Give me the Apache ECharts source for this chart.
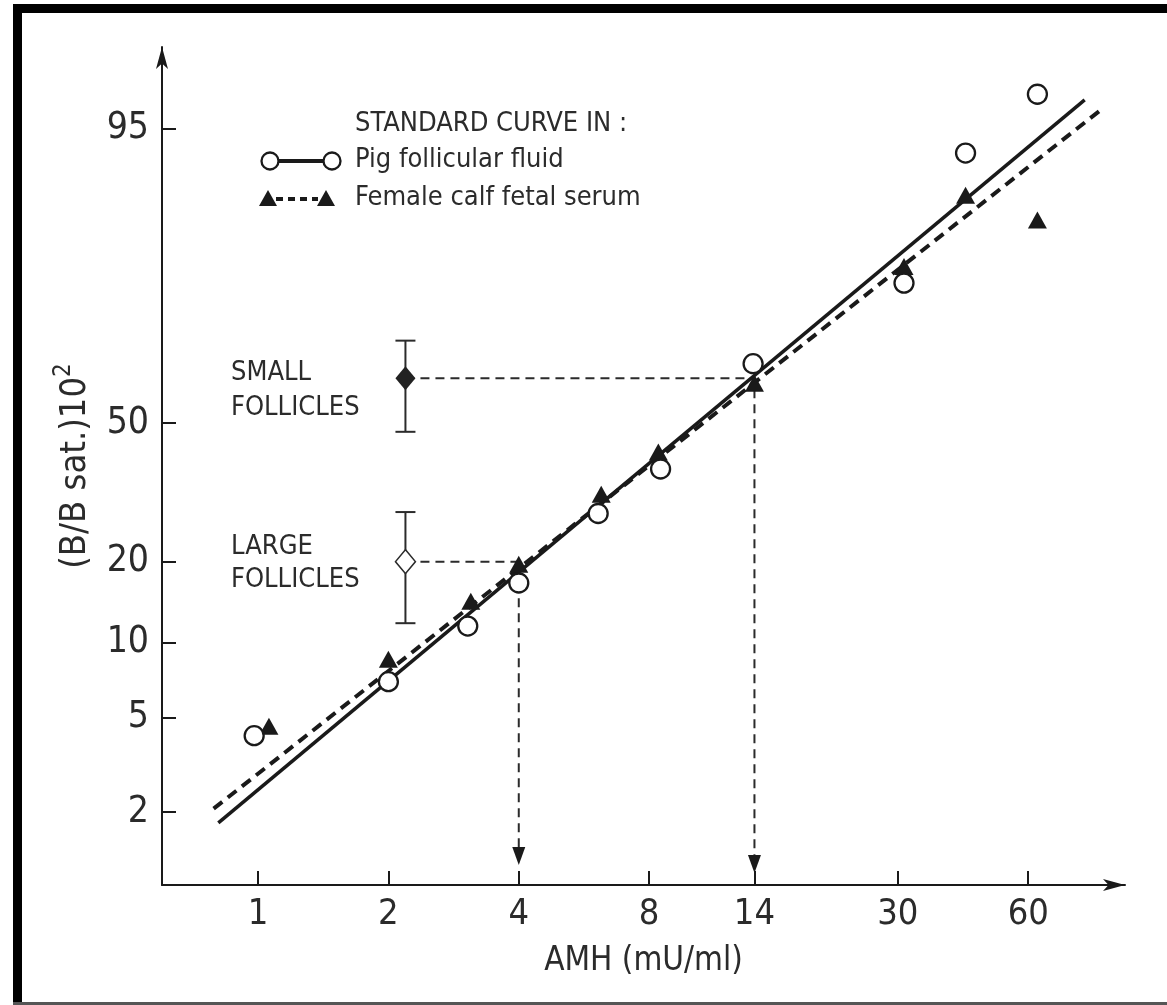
<!DOCTYPE html>
<html>
<head>
<meta charset="utf-8">
<script src="https://cdn.jsdelivr.net/npm/echarts@6/dist/echarts.min.js"></script>
<style>
  html, body { margin: 0; padding: 0; background: #fff; }
  #chart { width: 1167px; height: 1005px; }
</style>
</head>
<body>
<div id="chart"></div>
<script>
// tick labels
const xTicks = [1, 2, 4, 8, 14, 30, 60];
const yTicks = [2, 5, 10, 20, 50, 95];

// standard curve in pig follicular fluid (open circles)
const pigAMH = [0.98, 2, 3.05, 4, 6.1, 8.5, 13.9, 31, 43, 63];
const pigBound = [4.2, 7.0, 11.6, 16.8, 28.8, 38.7, 64.4, 80.2, 93.7, 96.4];
// standard curve in female calf fetal serum (filled triangles)
const calfAMH = [1.06, 2, 3.1, 4, 6.2, 8.4, 14, 31, 43, 63];
const calfBound = [4.6, 8.6, 14.4, 19.6, 32.9, 42.8, 59.8, 82.7, 90.7, 88.4];

// fitted lines (start, end)
const pigFitAMH = [0.81, 81];
const pigFitBound = [1.8, 96.2];
const calfFitAMH = [0.79, 88];
const calfFitBound = [2.07, 95.8];

// follicle samples: mean and range, read back on the curve
const follicleAMH = [2.19, 2.19];
const follicleBound = [61.0, 20.0];
const follicleHigh = [69.5, 29.1];
const follicleLow = [47.8, 11.9];
const follicleRead = [14, 4];
const arrowEnd = [1.2, 1.3];

const FONT = '"Liberation Sans Narrow", "DejaVu Sans Condensed", "Liberation Sans", sans-serif';
const INK = '#1a1a1a';
const TXT = '#2b2b2b';

const lg = v => Math.log2(v);
const logit = p => Math.log(p / (100 - p));
const pair = (xs, ys) => xs.map((x, i) => [lg(x), logit(ys[i])]);

const chart = echarts.init(document.getElementById('chart'));

const guideSeries = follicleBound.map((b, i) => ({
  type: 'line',
  z: 1,
  silent: true,
  symbol: 'none',
  lineStyle: { color: TXT, width: 2, type: [9, 6] },
  data: [
    { value: [lg(follicleAMH[i]), logit(b)] },
    { value: [lg(follicleRead[i]), logit(b)] },
    {
      value: [lg(follicleRead[i]), logit(arrowEnd[i])],
      symbol: 'triangle', symbolSize: [13, 18], symbolRotate: 180,
      itemStyle: { color: INK }
    }
  ]
}));

const option = {
  backgroundColor: '#fff',
  animation: false,
  grid: { left: 162, top: 47, width: 963, height: 838, outerBoundsMode: 'none' },
  xAxis: {
    type: 'value',
    min: -0.736,
    max: 6.649,
    name: 'AMH (mU/ml)',
    nameLocation: 'middle',
    nameGap: 60,
    nameTextStyle: { fontFamily: FONT, fontSize: 33, color: TXT },
    axisLine: { onZero: false, symbol: ['none', 'arrow'], symbolSize: [9, 22], lineStyle: { color: INK, width: 2 } },
    axisTick: { inside: true, length: 14, customValues: xTicks.map(lg), lineStyle: { color: INK, width: 2 } },
    axisLabel: {
      customValues: xTicks.map(lg),
      margin: 12,
      fontFamily: FONT, fontSize: 36, color: TXT,
      formatter: v => String(Math.round(Math.pow(2, v)))
    },
    splitLine: { show: false }
  },
  yAxis: {
    type: 'value',
    min: -4.62,
    max: 3.76,
    name: '{a|(B/B sat.)10}{s|2}',
    nameLocation: 'middle',
    nameGap: 62,
    nameTextStyle: {
      color: TXT,
      rich: {
        a: { fontFamily: FONT, fontSize: 36, lineHeight: 48, color: TXT },
        s: { fontFamily: FONT, fontSize: 24, verticalAlign: 'top', color: TXT }
      }
    },
    axisLine: { onZero: false, symbol: ['none', 'arrow'], symbolSize: [9, 22], lineStyle: { color: INK, width: 2 } },
    axisTick: { inside: true, length: 14, customValues: yTicks.map(logit), lineStyle: { color: INK, width: 2 } },
    axisLabel: {
      customValues: yTicks.map(logit),
      margin: 13,
      fontFamily: FONT, fontSize: 37, color: TXT,
      formatter: v => String(Math.round(100 / (1 + Math.exp(-v))))
    },
    splitLine: { show: false }
  },
  series: [
    {
      name: 'Pig follicular fluid fit',
      type: 'line', z: 2, symbol: 'none', silent: true,
      lineStyle: { color: INK, width: 3.5 },
      data: pair(pigFitAMH, pigFitBound)
    },
    {
      name: 'Female calf fetal serum fit',
      type: 'line', z: 2, symbol: 'none', silent: true,
      lineStyle: { color: INK, width: 4, type: [11, 7] },
      data: pair(calfFitAMH, calfFitBound)
    },
    ...guideSeries,
    {
      name: 'Female calf fetal serum',
      type: 'scatter', z: 4,
      symbol: 'triangle', symbolSize: [19, 17],
      itemStyle: { color: INK, opacity: 1 },
      data: pair(calfAMH, calfBound)
    },
    {
      name: 'Pig follicular fluid',
      type: 'scatter', z: 5,
      symbol: 'circle', symbolSize: 19,
      itemStyle: { color: '#fff', borderColor: INK, borderWidth: 2.3, opacity: 1 },
      data: pair(pigAMH, pigBound)
    },
    {
      name: 'range',
      type: 'custom', z: 3,
      encode: { x: 0, y: [1, 2] },
      renderItem: function (params, api) {
        const top = api.coord([api.value(0), api.value(1)]);
        const bot = api.coord([api.value(0), api.value(2)]);
        const w = 10;
        const st = { stroke: TXT, lineWidth: 2 };
        return {
          type: 'group',
          children: [
            { type: 'line', shape: { x1: top[0], y1: top[1], x2: bot[0], y2: bot[1] }, style: st },
            { type: 'line', shape: { x1: top[0] - w, y1: top[1], x2: top[0] + w, y2: top[1] }, style: st },
            { type: 'line', shape: { x1: bot[0] - w, y1: bot[1], x2: bot[0] + w, y2: bot[1] }, style: st }
          ]
        };
      },
      data: follicleBound.map((b, i) => [lg(follicleAMH[i]), logit(follicleHigh[i]), logit(follicleLow[i])])
    },
    {
      name: 'follicles',
      type: 'scatter', z: 6,
      symbol: 'diamond', symbolSize: [20, 24],
      data: [
        { value: [lg(follicleAMH[0]), logit(follicleBound[0])], itemStyle: { color: '#222', opacity: 1 } },
        { value: [lg(follicleAMH[1]), logit(follicleBound[1])], itemStyle: { color: '#fff', borderColor: TXT, borderWidth: 1.5, opacity: 1 } }
      ]
    }
  ],
  graphic: [
    // frame of the scanned page
    { type: 'rect', shape: { x: 13, y: 4, width: 1154, height: 9 }, style: { fill: '#000' } },
    { type: 'rect', shape: { x: 13, y: 4, width: 9, height: 1001 }, style: { fill: '#000' } },
    { type: 'rect', shape: { x: 13, y: 1002, width: 1154, height: 3 }, style: { fill: '#555' } },
    // legend
    { type: 'text', left: 355, top: 110, style: { text: 'STANDARD CURVE IN :', fontFamily: FONT, fontSize: 27, fill: TXT } },
    { type: 'line', shape: { x1: 278, y1: 161, x2: 324, y2: 161 }, style: { stroke: INK, lineWidth: 4 } },
    { type: 'circle', shape: { cx: 270, cy: 161, r: 8.5 }, style: { fill: '#fff', stroke: INK, lineWidth: 2.3 } },
    { type: 'circle', shape: { cx: 332, cy: 161, r: 8.5 }, style: { fill: '#fff', stroke: INK, lineWidth: 2.3 } },
    { type: 'text', left: 355, top: 146, style: { text: 'Pig follicular fluid', fontFamily: FONT, fontSize: 27, fill: TXT } },
    { type: 'line', shape: { x1: 276, y1: 199, x2: 318, y2: 199 }, style: { stroke: INK, lineWidth: 4, lineDash: [7, 5] } },
    { type: 'polygon', shape: { points: [[259, 206], [277, 206], [268, 190]] }, style: { fill: INK } },
    { type: 'polygon', shape: { points: [[317, 206], [335, 206], [326, 190]] }, style: { fill: INK } },
    { type: 'text', left: 355, top: 184, style: { text: 'Female calf fetal serum', fontFamily: FONT, fontSize: 27, fill: TXT } },
    // follicle annotations
    { type: 'text', left: 231, top: 355, style: { text: 'SMALL\nFOLLICLES', fontFamily: FONT, fontSize: 27, lineHeight: 35, fill: TXT } },
    { type: 'text', left: 231, top: 530, style: { text: 'LARGE\nFOLLICLES', fontFamily: FONT, fontSize: 27, lineHeight: 33, fill: TXT } }
  ]
};

chart.setOption(option);
</script>
</body>
</html>
